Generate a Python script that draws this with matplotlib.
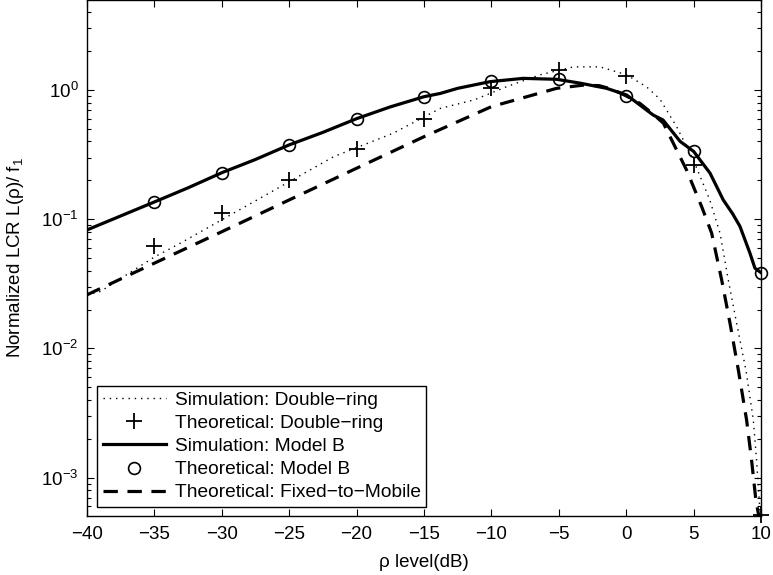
import numpy as np
import matplotlib
matplotlib.use("Agg")
import matplotlib.pyplot as plt
from matplotlib.ticker import FixedLocator, LogLocator, NullFormatter

plt.rcParams['font.family'] = ['Liberation Sans', 'DejaVu Sans']
plt.rcParams['mathtext.fontset'] = 'custom'
plt.rcParams['mathtext.rm'] = 'Liberation Sans'
plt.rcParams['mathtext.it'] = 'Liberation Sans:italic'
plt.rcParams['mathtext.bf'] = 'Liberation Sans:bold'

# ---- data ----
theo_x = [-35, -30, -25, -20, -15, -10, -5, 0, 5, 10]
theo_dr = [0.0625, 0.112, 0.201, 0.348, 0.60, 1.03, 1.43, 1.29, 0.263, 5.1e-4]
theo_mb = [0.136, 0.229, 0.376, 0.60, 0.887, 1.17, 1.22, 0.90, 0.335, 0.0386]

sim_dr_x = [-40, -39, -35, -33.1, -29.15, -21.7, -17.3, -13.8, -11.3, -8.87, -6.4,
            -3.9, -1.94, 0.03, 1.5, 2.5, 3.74, 4.98, 6.2, 6.96, 7.57, 8.19, 8.88,
            9.43, 9.67, 9.87, 10]
sim_dr_y = [0.026, 0.0276, 0.051, 0.065, 0.111, 0.305, 0.462, 0.72, 0.837, 1.06, 1.31,
            1.51, 1.51, 1.31, 1.06, 0.85, 0.52, 0.288, 0.141, 0.078, 0.034, 0.0157, 0.0068,
            0.0028, 0.00137, 6.7e-4, 4.0e-4]

sim_mb_x = [-40, -37.5, -35, -32.5, -30, -27.5, -25, -22.5, -20, -17.5, -15, -13.8,
            -12.5, -10.1, -7.65, -5.16, -3.43, -1.45, 0.03, 2.0, 2.73, 4.0, 5, 6.22, 7.2,
            7.9, 8.44, 9.18, 9.55, 10]
sim_mb_y = [0.0826, 0.106, 0.136, 0.175, 0.229, 0.29, 0.376, 0.47, 0.60, 0.74, 0.887, 0.94,
            1.03, 1.16, 1.23, 1.21, 1.13, 1.03, 0.915, 0.64, 0.586, 0.40, 0.335, 0.227, 0.141,
            0.110, 0.088, 0.0546, 0.0418, 0.0386]

f2m_x = [-40, -35, -30, -25, -20, -15, -10, -5.16, -3.2, -2.0, -1.0, 0, 1.0, 2.0, 2.76,
         4.48, 5.6, 6.34, 7.08, 7.70, 8.32, 8.93, 9.30, 9.62, 9.8, 10]
f2m_y = [0.026, 0.0457, 0.080, 0.141, 0.248, 0.435, 0.743, 1.03, 1.09, 1.08, 1.01, 0.90,
         0.79, 0.65, 0.553, 0.24, 0.125, 0.078, 0.034, 0.0157, 0.0068, 0.0028, 0.00137,
         6.7e-4, 5.3e-4, 4.0e-4]

labels = ['Simulation: Double\u2212ring', 'Theoretical: Double\u2212ring',
          'Simulation: Model B', 'Theoretical: Model B',
          'Theoretical: Fixed\u2212to\u2212Mobile']

x_ticks = [-40, -35, -30, -25, -20, -15, -10, -5, 0, 5, 10]

# ---- figure ----
fig = plt.figure(figsize=(7.73, 5.75), dpi=100)
ax = fig.add_axes([87/773, 1 - 516/575, 674/773, 516/575])

ax.plot(sim_dr_x, sim_dr_y, color='black', lw=1.0, dashes=(1.0, 3.5), label=labels[0])
ax.plot(theo_x, theo_dr, linestyle='none', marker='+', ms=11, mew=1.3, color='black',
        label=labels[1], clip_on=False)
ax.plot(sim_mb_x, sim_mb_y, color='black', lw=2.3, label=labels[2])
ax.plot(theo_x, theo_mb, linestyle='none', marker='o', ms=8.5, mew=1.2,
        mfc='none', mec='black', label=labels[3], clip_on=False)
ax.plot(f2m_x, f2m_y, color='black', lw=2.3, dashes=(4.5, 3.0), label=labels[4])

ax.set_yscale('log')
ax.set_xlim(-40, 10)
ax.set_ylim(5.05e-4, 4.97)
ax.xaxis.set_major_locator(FixedLocator(x_ticks))
ax.yaxis.set_major_locator(LogLocator(base=10, numticks=10))
ax.yaxis.set_minor_locator(LogLocator(base=10, subs=np.arange(2, 10), numticks=20))
ax.yaxis.set_minor_formatter(NullFormatter())

ax.tick_params(which='both', direction='in', top=True, right=True, labelsize=13.5,
               width=0.8, colors='black')
ax.tick_params(which='major', length=5)
ax.tick_params(which='minor', length=3)
ax.tick_params(axis='x', pad=7)
ax.tick_params(axis='y', pad=6)
for s in ax.spines.values():
    s.set_linewidth(1.0)

ax.set_xlabel('\u03c1 level(dB)', fontsize=13.5)
ax.set_ylabel('Normalized LCR L(\u03c1)/ f$_{1}$', fontsize=13.5)
ax.xaxis.set_label_coords(0.5, -0.074)
ax.yaxis.set_label_coords(-0.09, 0.5)

leg = ax.legend(loc='lower left', bbox_to_anchor=(0.015, 0.017), borderaxespad=0,
                fontsize=13.8, fancybox=False, framealpha=1, edgecolor='black',
                handlelength=3.3, handletextpad=0.45, labelspacing=0.3,
                borderpad=0.3)
leg.get_frame().set_linewidth(1.0)

fig.savefig('out.png', dpi=100)
